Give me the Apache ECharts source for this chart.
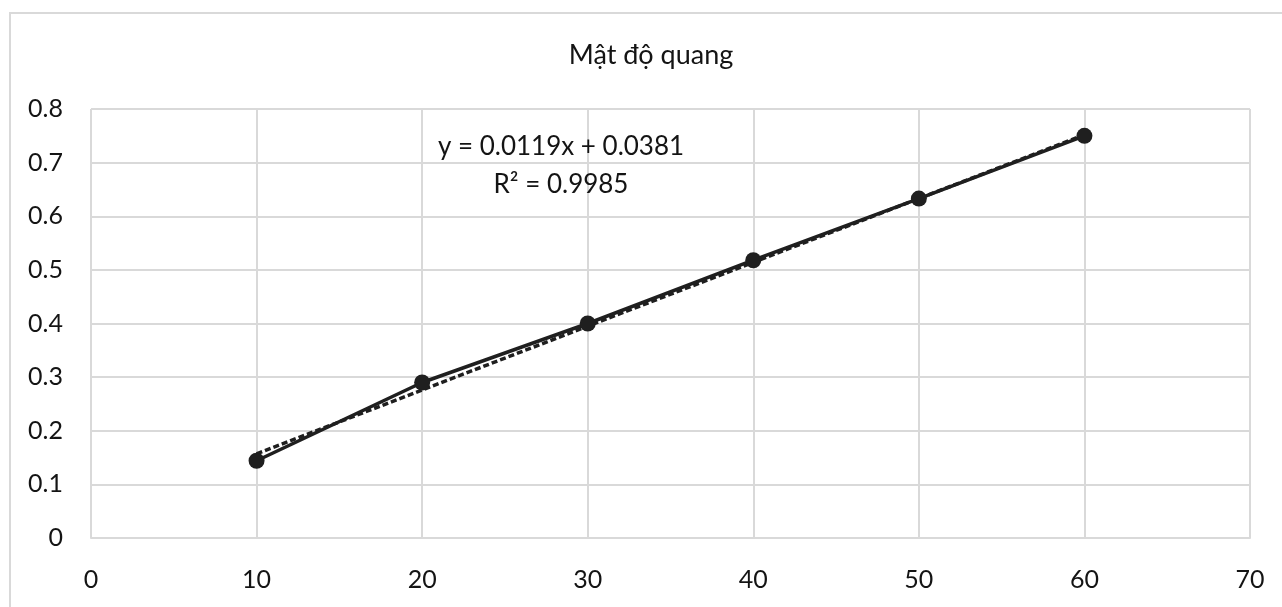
<!DOCTYPE html>
<html>
<head>
<meta charset="utf-8">
<script src="https://cdn.jsdelivr.net/npm/echarts@6/dist/echarts.min.js"></script>
<style>
  html, body { margin: 0; padding: 0; background: #fff; overflow: hidden; }
  #chart { width: 1282px; height: 607px; }
</style>
</head>
<body>
<div id="chart"></div>
<script>
// nồng độ (trục x) và mật độ quang đo được
var concX = [10, 20, 30, 40, 50, 60];
var odY = [0.144, 0.290, 0.400, 0.518, 0.633, 0.750];

// đường xu hướng tuyến tính, hai đầu mút
var trendX = [10, 60];
var trendY = [0.157, 0.752];

var titleText = 'Mật độ quang';
var eqLine1 = 'y = 0.0119x + 0.0381';
var eqLine2 = 'R² = 0.9985';

var font = 'Lato, "Open Sans", sans-serif';
var gridColor = '#d9d9d9';
var textColor = '#141414';

var chart = echarts.init(document.getElementById('chart'));

var points = concX.map(function (x, i) { return [x, odY[i]]; });
var trend = trendX.map(function (x, i) { return [x, trendY[i]]; });

chart.setOption({
  animation: false,
  backgroundColor: '#fff',
  grid: { left: 91, right: 32, top: 109, bottom: 69 },
  xAxis: {
    type: 'value',
    min: 0, max: 70, interval: 10,
    axisLine: { lineStyle: { color: gridColor, width: 2 } },
    axisTick: { show: false },
    splitLine: { show: true, lineStyle: { color: gridColor, width: 2 } },
    axisLabel: { fontFamily: font, fontSize: 25, color: textColor, margin: 29 }
  },
  yAxis: {
    type: 'value',
    min: 0, max: 0.8, interval: 0.1,
    axisLine: { show: false },
    axisTick: { show: false },
    splitLine: { show: true, lineStyle: { color: gridColor, width: 2 } },
    axisLabel: { fontFamily: font, fontSize: 25, color: textColor, margin: 28 }
  },
  graphic: [
    {
      type: 'rect',
      silent: true,
      shape: { x: 10, y: 13, width: 1400, height: 800 },
      style: { fill: 'none', stroke: gridColor, lineWidth: 2 },
      z: -10
    },
    {
      // tiêu đề
      type: 'text',
      x: 651,
      y: 55,
      style: {
        text: titleText,
        fontFamily: font, fontSize: 27, fill: textColor,
        align: 'center', verticalAlign: 'middle'
      },
      z: 10
    },
    {
      // phương trình hồi quy
      type: 'text',
      x: 561,
      y: 147,
      style: {
        text: eqLine1,
        fontFamily: font, fontSize: 26, fill: textColor,
        align: 'center', verticalAlign: 'middle'
      },
      z: 10
    },
    {
      type: 'text',
      x: 561,
      y: 185,
      style: {
        text: eqLine2,
        fontFamily: font, fontSize: 26, fill: textColor,
        align: 'center', verticalAlign: 'middle'
      },
      z: 10
    }
  ],
  series: [
    {
      name: 'trend',
      type: 'line',
      data: trend,
      symbol: 'none',
      lineStyle: { color: '#1f1f1f', width: 3.5, type: [6, 3] },
      z: 2
    },
    {
      name: 'od',
      type: 'line',
      data: points,
      symbol: 'circle',
      symbolSize: 16,
      itemStyle: { color: '#1f1f1f' },
      lineStyle: { color: '#1f1f1f', width: 3.5 },
      z: 3
    }
  ]
});
</script>
</body>
</html>
